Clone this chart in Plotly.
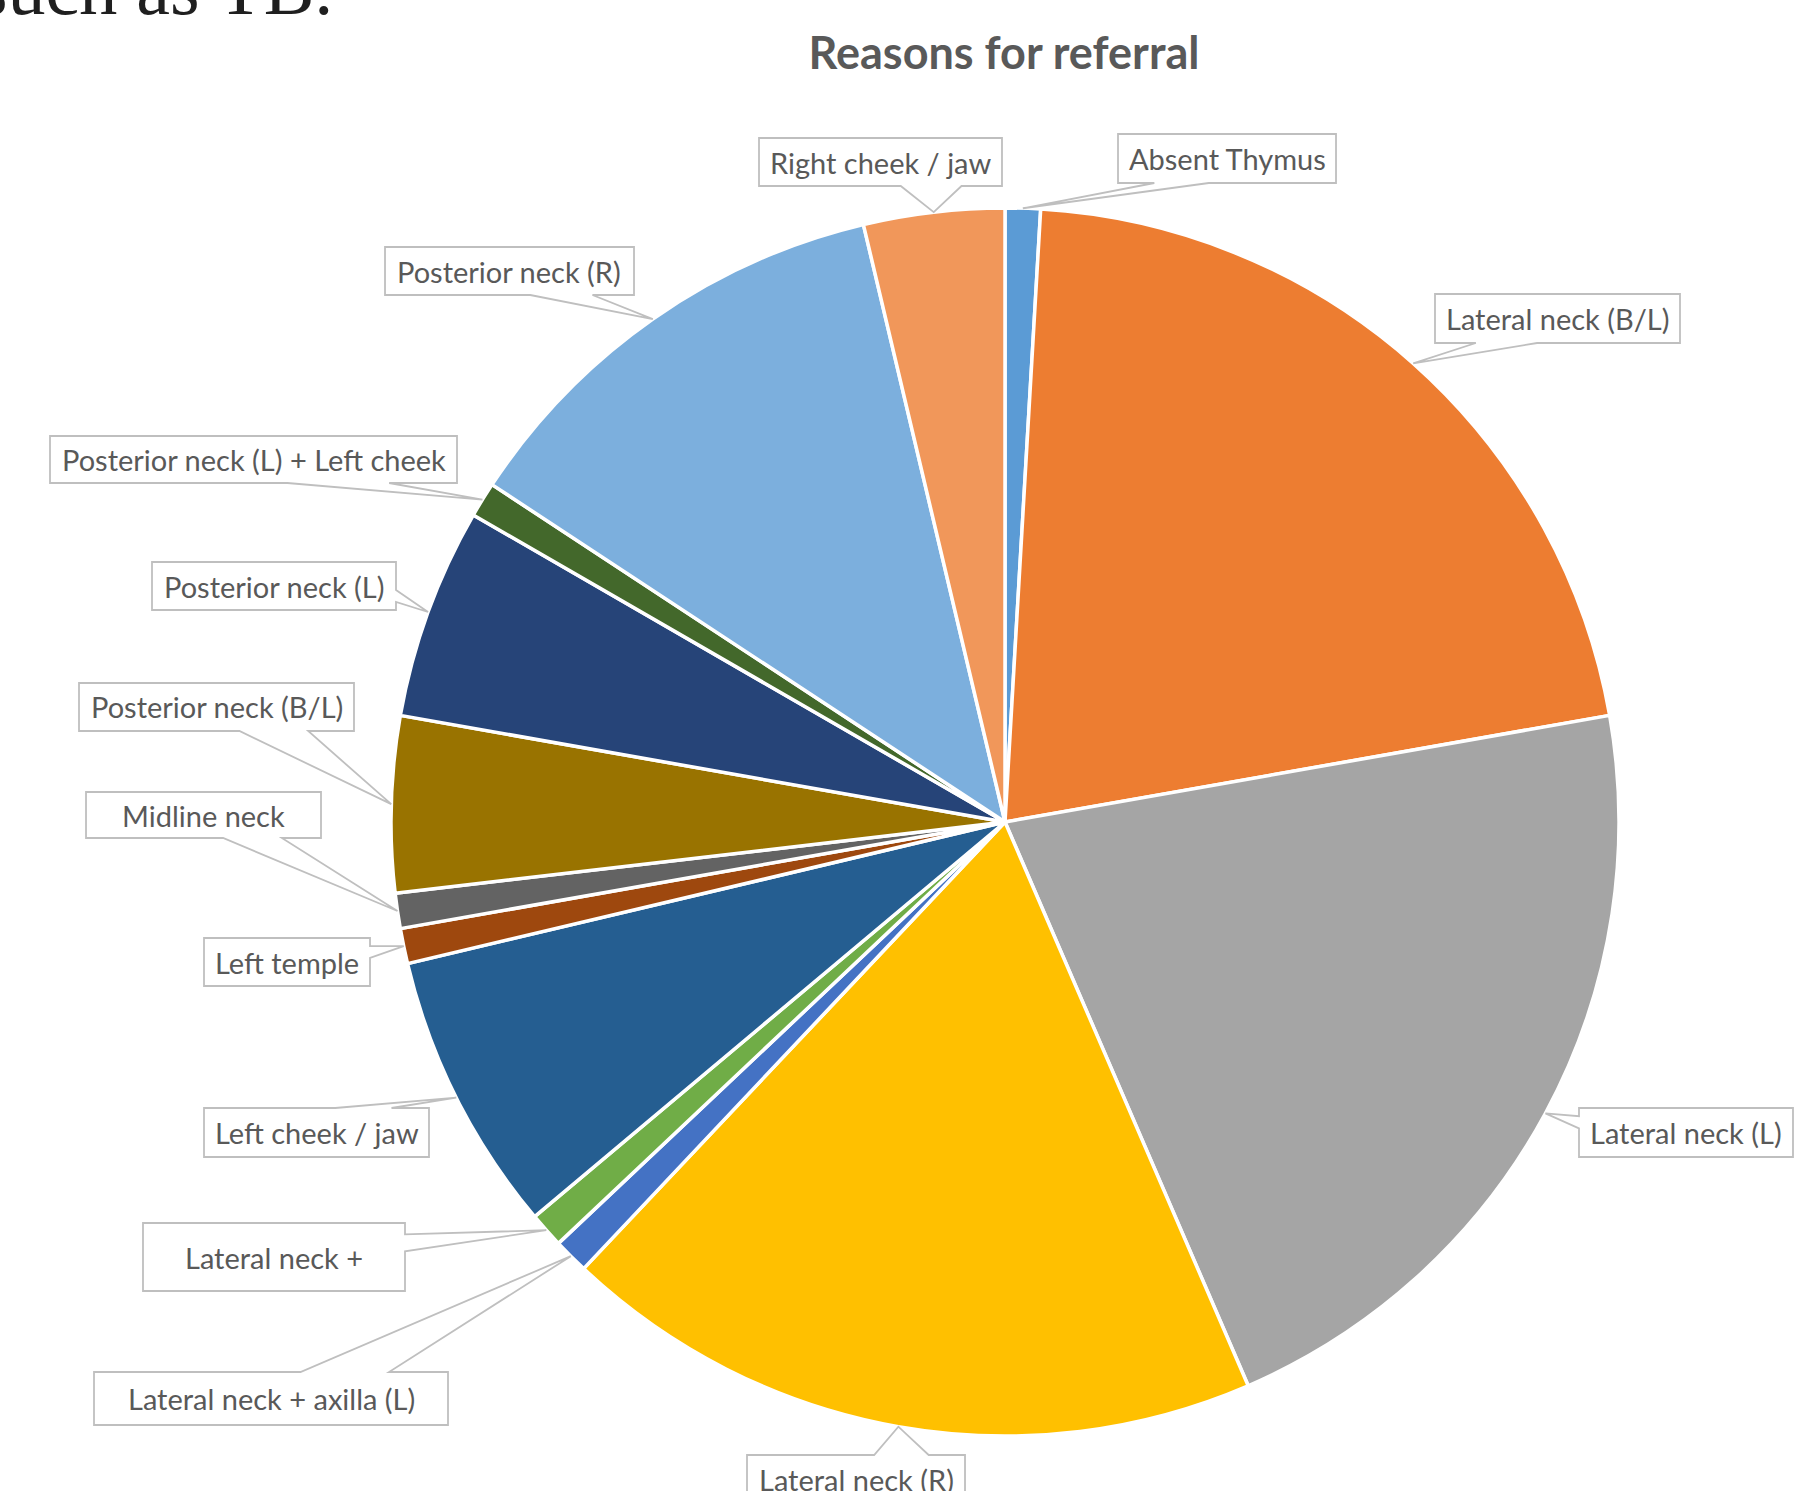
import math
import numpy as np
import plotly.graph_objects as go

# ---------------- data ----------------
labels = [
    "Absent Thymus", "Lateral neck (B/L)", "Lateral neck (L)", "Lateral neck (R)",
    "Lateral neck + axilla (L)", "Lateral neck +", "Left cheek / jaw", "Left temple",
    "Midline neck", "Posterior neck (B/L)", "Posterior neck (L)",
    "Posterior neck (L) + Left cheek", "Posterior neck (R)", "Right cheek / jaw",
]
counts = [1, 23, 23, 20, 1, 1, 8, 1, 1, 5, 6, 1, 13, 4]
title_text = "Reasons for referral"

# ---------------- style / layout ----------------
colors = ["#5B9BD5", "#ED7D31", "#A5A5A5", "#FFC000", "#4472C4", "#70AD47", "#255E91",
          "#9E480E", "#636363", "#997300", "#264478", "#43682B", "#7CAFDD", "#F1975A"]

W, H = 1805, 1491
CX, CY, R = 1005, 822, 614          # pie centre / radius in px

# label box rectangles (x0, y0, x1, y1) in px
boxes = {
    "Absent Thymus": (1118, 134, 1336, 183),
    "Lateral neck (B/L)": (1435, 294, 1680, 343),
    "Lateral neck (L)": (1579, 1108, 1793, 1157),
    "Lateral neck (R)": (747, 1455, 965, 1504),
    "Lateral neck + axilla (L)": (94, 1372, 448, 1425),
    "Lateral neck +": (143, 1223, 405, 1291),
    "Left cheek / jaw": (204, 1108, 429, 1157),
    "Left temple": (204, 938, 370, 986),
    "Midline neck": (86, 792, 321, 838),
    "Posterior neck (B/L)": (79, 683, 354, 731),
    "Posterior neck (L)": (152, 562, 396, 610),
    "Posterior neck (L) + Left cheek": (50, 436, 457, 483),
    "Posterior neck (R)": (385, 247, 634, 295),
    "Right cheek / jaw": (759, 138, 1002, 186),
}

TEXT_COLOR = "#595959"
BOX_LINE = "#BFBFBF"


def px(x):
    return x / W


def py(y):
    return 1 - y / H


fig = go.Figure()
fig.add_trace(go.Pie(
    labels=labels, values=counts, sort=False, direction="clockwise", rotation=0,
    marker=dict(colors=colors, line=dict(color="white", width=3.5)),
    textinfo="none", hoverinfo="label+value+percent", showlegend=False,
    domain=dict(x=[(CX - R) / W, (CX + R) / W], y=[py(CY + R), py(CY - R)]),
))

# callout geometry, apex derived from the slice mid-angles
vals = np.array(counts, dtype=float)
total = vals.sum()
mids = (np.cumsum(vals) - vals / 2) / total * 2 * math.pi

shapes = []
annotations = []
for lab, th in zip(labels, mids):
    ax = CX + R * math.sin(th)
    ay = CY - R * math.cos(th)
    x0, y0, x1, y1 = boxes[lab]
    w, h = x1 - x0, y1 - y0
    hc, vc = (x0 + x1) / 2, (y0 + y1) / 2
    dxp, dyp = ax - hc, ay - vc
    if dxp > 0:
        xb1, xb2 = x0 + w * 7 / 12, x0 + w * 10 / 12
    else:
        xb1, xb2 = x0 + w * 2 / 12, x0 + w * 5 / 12
    if dyp > 0:
        yb1, yb2 = y0 + h * 7 / 12, y0 + h * 10 / 12
    else:
        yb1, yb2 = y0 + h * 2 / 12, y0 + h * 5 / 12
    vertical = abs(dyp * w) > abs(dxp * h)
    pts = [(x0, y0)]
    if vertical and dyp < 0:
        pts += [(xb1, y0), (ax, ay), (xb2, y0)]
    pts += [(x1, y0)]
    if not vertical and dxp > 0:
        pts += [(x1, yb1), (ax, ay), (x1, yb2)]
    pts += [(x1, y1)]
    if vertical and dyp > 0:
        pts += [(xb2, y1), (ax, ay), (xb1, y1)]
    pts += [(x0, y1)]
    if not vertical and dxp < 0:
        pts += [(x0, yb2), (ax, ay), (x0, yb1)]
    path = "M " + " L ".join(f"{px(a):.5f},{py(b):.5f}" for a, b in pts) + " Z"
    shapes.append(dict(type="path", xref="paper", yref="paper", path=path,
                       fillcolor="white", line=dict(color=BOX_LINE, width=1.8), layer="above"))
    annotations.append(dict(x=px(hc), y=py(vc), xref="paper", yref="paper", text=lab,
                            showarrow=False, xanchor="center", yanchor="middle",
                            font=dict(family="Lato", size=29, color=TEXT_COLOR)))

# cropped document text above the chart
annotations.append(dict(x=px(-24), y=py(32), xref="paper", yref="paper", text="such as TB.",
                        showarrow=False, xanchor="left", yanchor="bottom",
                        font=dict(family="Liberation Serif", size=76, color="#1f1f1f")))

fig.update_layout(
    width=W, height=H,
    margin=dict(l=0, r=0, t=0, b=0),
    paper_bgcolor="white", plot_bgcolor="white",
    title=dict(text=title_text, x=px(1004), xanchor="center", y=py(53), yanchor="middle",
               yref="container",
               font=dict(family="Lato", size=45, color=TEXT_COLOR, weight="bold")),
    shapes=shapes, annotations=annotations,
)

fig.write_html("out.html", config={"displayModeBar": False},
               post_script="document.body.style.margin='0';document.body.style.overflow='hidden';")
